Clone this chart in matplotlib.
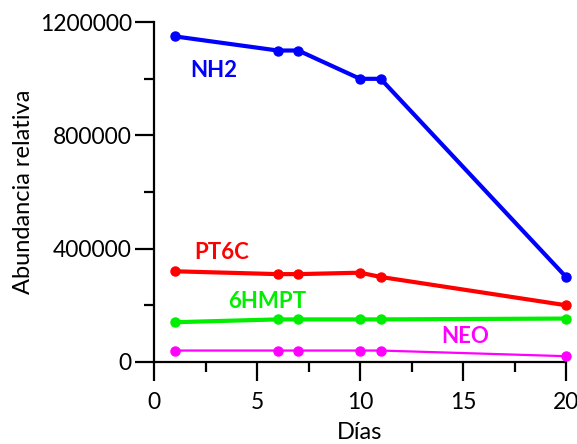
import matplotlib
matplotlib.use("Agg")
import matplotlib.pyplot as plt
from matplotlib.ticker import MultipleLocator

plt.rcParams['font.family'] = ['Lato', 'DejaVu Sans']

# data
dias = [1, 6, 7, 10, 11, 20]
nh2 = [1150000, 1100000, 1100000, 1000000, 1000000, 300000]
pt6c = [320000, 310000, 310000, 315000, 300000, 200000]
hmpt = [140000, 150000, 150000, 150000, 150000, 153000]
neo = [40000, 40000, 40000, 40000, 40000, 20000]

series = [
    ("NH2", nh2, "#0000ff", 3.0, (2.9, 1028000)),
    ("PT6C", pt6c, "#ff0000", 3.0, (3.3, 386000)),
    ("6HMPT", hmpt, "#00ee00", 3.0, (5.5, 213000)),
    ("NEO", neo, "#ff00ff", 1.6, (15.1, 90000)),
]

fig = plt.figure(figsize=(5.77, 4.44), dpi=100)
ax = fig.add_axes([0.267, 0.185, 0.714, 0.765])

for name, vals, col, lw, pos in series:
    ax.plot(dias, vals, color=col, lw=lw, marker='o', markersize=6.5,
            clip_on=False, zorder=3)
    ax.text(pos[0], pos[1], name, color=col, fontsize=16, fontweight='bold',
            ha='center', va='center')

ax.set_xlim(0, 20)
ax.set_ylim(0, 1200000)
ax.xaxis.set_major_locator(MultipleLocator(5))
ax.xaxis.set_minor_locator(MultipleLocator(2.5))
ax.yaxis.set_major_locator(MultipleLocator(400000))
ax.yaxis.set_minor_locator(MultipleLocator(200000))
ax.ticklabel_format(axis='y', style='plain', useOffset=False)

for s in ['top', 'right']:
    ax.spines[s].set_visible(False)
for s in ['left', 'bottom']:
    ax.spines[s].set_linewidth(1.6)

ax.tick_params(which='major', length=14, width=1.6, labelsize=16.5)
ax.tick_params(which='minor', length=7.5, width=1.6)
ax.tick_params(axis='y', pad=2)
ax.tick_params(axis='x', pad=8)

ax.set_xlabel("Días", fontsize=17, labelpad=6)
ax.set_ylabel("Abundancia relativa", fontsize=17, labelpad=4)

fig.savefig("out.png", dpi=100)
